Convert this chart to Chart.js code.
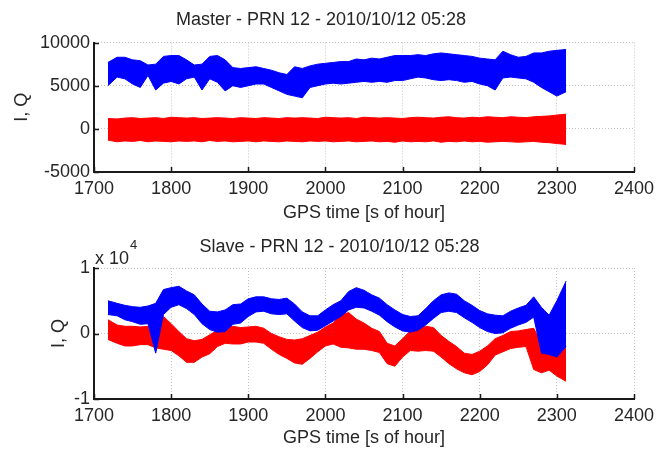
<!DOCTYPE html>
<html>
<head>
<meta charset="utf-8">
<script src="https://cdn.jsdelivr.net/npm/chart.js@4.4.1/dist/chart.umd.min.js"></script>
<style>
  html, body { margin: 0; padding: 0; background: #fff; }
  .panel { position: absolute; left: 0; width: 671px; }
  #top    { top: 0;     height: 225px; }
  #bottom { top: 225px; height: 224px; }
</style>
</head>
<body>
<div class="panel" id="top"><canvas id="master" width="671" height="225"></canvas></div>
<div class="panel" id="bottom"><canvas id="slave" width="671" height="224"></canvas></div>
<script>
'use strict';

// ── Data: each noisy trace is kept as its lower / upper envelope, read every 10 s ──
const gpsTime = [
  1718, 1730, 1740, 1750, 1760, 1770, 1780, 1790, 1800, 1810,
  1820, 1830, 1840, 1850, 1860, 1870, 1880, 1890, 1900, 1910,
  1920, 1930, 1940, 1950, 1960, 1970, 1980, 1990, 2000, 2010,
  2020, 2030, 2040, 2050, 2060, 2070, 2080, 2090, 2100, 2110,
  2120, 2130, 2140, 2150, 2160, 2170, 2180, 2190, 2200, 2210,
  2220, 2230, 2240, 2250, 2260, 2270, 2280, 2290, 2300, 2312,
];

// Master (top panel)
const masterI_hi = [
  7700, 8300, 8300, 8000, 7900, 7400, 7500, 8400, 8500, 8500,
  8000, 7400, 7500, 8400, 8500, 8000, 7100, 7000, 7100, 7200,
  7000, 6800, 6500, 6300, 7200, 7000, 7300, 7500, 7600, 7700,
  7800, 7800, 8100, 8000, 8200, 8100, 8300, 8500, 8500, 8500,
  8600, 8500, 8700, 8800, 8700, 8600, 8500, 8400, 8200, 8100,
  8000, 9000, 8600, 8300, 8400, 8800, 8800, 9000, 9100, 9200,
];
const masterI_lo = [
  5000, 6000, 5800, 5200, 4800, 6200, 4500, 5300, 5500, 5200,
  5800, 6000, 4500, 5800, 5400, 4400, 5000, 4800, 5000, 5200,
  5200, 4800, 4400, 4000, 3800, 3600, 4800, 5000, 5200, 5300,
  5200, 5300, 5400, 5500, 5400, 5500, 5400, 5600, 5600, 5800,
  6000, 5900, 5700, 5600, 5700, 5600, 5400, 5500, 5200, 5000,
  4500, 5900, 6000, 5900, 5800, 5400, 4800, 4300, 3800, 4300,
];
const masterQ_hi = [
  1200, 1150, 1250, 1300, 1200, 1250, 1300, 1200, 1350, 1300,
  1250, 1300, 1200, 1250, 1300, 1250, 1200, 1300, 1250, 1200,
  1300, 1250, 1200, 1300, 1250, 1300, 1250, 1200, 1350, 1300,
  1250, 1300, 1200, 1350, 1300, 1250, 1300, 1250, 1200, 1300,
  1350, 1300, 1250, 1350, 1400, 1300, 1250, 1350, 1300, 1400,
  1350, 1300, 1400, 1350, 1300, 1400, 1450, 1500, 1600, 1700,
];
const masterQ_lo = [
  -1300, -1500, -1400, -1450, -1350, -1500, -1400, -1450, -1500, -1400,
  -1450, -1400, -1500, -1350, -1450, -1400, -1500, -1450, -1400, -1500,
  -1400, -1450, -1500, -1400, -1450, -1500, -1400, -1450, -1400, -1500,
  -1450, -1400, -1500, -1450, -1400, -1500, -1450, -1550, -1400, -1500,
  -1450, -1500, -1400, -1550, -1450, -1500, -1400, -1500, -1450, -1550,
  -1500, -1450, -1500, -1550, -1500, -1450, -1550, -1600, -1700, -1800,
];

// Slave (bottom panel)
const slaveI_hi = [
  5000, 4600, 4300, 4100, 4000, 4200, 4600, 6700, 7000, 7200,
  6500, 5900, 4500, 3400, 3300, 3600, 4400, 4500, 5300, 5600,
  5600, 5300, 5200, 5400, 4500, 3300, 2700, 2700, 3600, 4400,
  5000, 6400, 7000, 6600, 5900, 5400, 4400, 3600, 2900, 2600,
  2700, 3800, 5000, 5900, 6200, 6000, 5000, 4300, 3500, 3000,
  2800, 2700, 3400, 3900, 4300, 5600, 4000, 2800, 5000, 8000,
];
const slaveI_lo = [
  2900, 2700, 2100, 1800, 1400, 1500, -3000, 2900, 4000, 4400,
  3800, 2900, 1500, 600, 200, 300, 1400, 1600, 2600, 3300,
  3400, 3000, 2900, 3000, 1900, 900, 400, 500, 1200, 1900,
  2600, 3600, 4000, 3900, 3400, 2800, 1800, 1000, 400, 200,
  500, 1300, 2300, 3200, 3400, 3200, 2400, 1700, 900, 300,
  0, 100, 800, 1300, 1700, 2500, -3000, -3200, -3600, -2000,
];
const slaveQ_hi = [
  2100, 1300, 1100, 1100, 1000, 1100, 1500, 2600, 1500, 300,
  -800, -1100, -900, -200, 500, 1000, 1100, 900, 1000, 1100,
  800, 0, -500, -900, -1000, -800, -300, 200, 1000, 1600,
  2800, 3200, 2200, 1600, 800, 300, -1500, -1900, -800, 400,
  700, 1100, 900, -300, -1200, -2000, -3000, -3200, -2700, -1900,
  -800, -300, 300, 400, 600, 800, -1500, -1600, -1100, -1000,
];
const slaveQ_lo = [
  -900, -1500, -1900, -1900, -1700, -1700, -2200, -2400, -2600, -3400,
  -4400, -4400, -3600, -3100, -2000, -1500, -1600, -1600, -1300, -1300,
  -1500, -2400, -3200, -3800, -4500, -4700, -3800, -2800, -1900, -1600,
  -2100, -2200, -2400, -2400, -2600, -2900, -4600, -5000, -3600, -2600,
  -2700, -2600, -2700, -3600, -4600, -5400, -6000, -6300, -5800, -4800,
  -3300, -2800, -2300, -2100, -2000, -5500, -6000, -5600, -6500, -7300,
];

const xTicks = [1700, 1800, 1900, 2000, 2100, 2200, 2300, 2400];

// ── Style ─────────────────────────────────────────────
const FONT = "'Liberation Sans', Arial, Helvetica, sans-serif";
const TEXT = '#262626';
const BLUE = '#0000ff';
const RED  = '#ff0000';

function pts(ys) {
  return ys.map((y, i) => ({ x: gpsTime[i], y }));
}

// one band = lower edge + upper edge filled down to it
function band(lo, hi, color) {
  const base = { borderColor: color, borderWidth: 1, pointRadius: 0, tension: 0 };
  return [
    { ...base, data: pts(lo), fill: false },
    { ...base, data: pts(hi), fill: '-1', backgroundColor: color },
  ];
}

// MATLAB-ish inward tick marks on the left and bottom axes
const inwardTicks = {
  id: 'inwardTicks',
  afterDraw(chart) {
    const { ctx, chartArea: a, scales: { x, y } } = chart;
    ctx.save();
    ctx.strokeStyle = '#1a1a1a';
    ctx.lineWidth = 1.5;
    ctx.beginPath();
    x.ticks.forEach(t => {
      const px = Math.round(x.getPixelForValue(t.value)) + 0.5;
      ctx.moveTo(px, a.bottom);
      ctx.lineTo(px, a.bottom - 5);
    });
    y.ticks.forEach(t => {
      const py = Math.round(y.getPixelForValue(t.value)) + 0.5;
      ctx.moveTo(a.left, py);
      ctx.lineTo(a.left + 5, py);
    });
    ctx.stroke();
    ctx.restore();
  },
};

// "x 10^4" multiplier above the slave y axis
const exponentLabel = {
  id: 'exponentLabel',
  afterDraw(chart) {
    const { ctx, chartArea: a } = chart;
    ctx.save();
    ctx.fillStyle = TEXT;
    ctx.textBaseline = 'alphabetic';
    ctx.font = `18px ${FONT}`;
    ctx.fillText('x 10', a.left + 1, a.top - 4);
    const w = ctx.measureText('x 10').width;
    ctx.font = `13px ${FONT}`;
    ctx.fillText('4', a.left + 2 + w, a.top - 19);
    ctx.restore();
  },
};

function makePanel(canvasId, opts) {
  const ctx = document.getElementById(canvasId).getContext('2d');
  return new Chart(ctx, {
    type: 'line',
    data: {
      datasets: [
        ...band(opts.I_lo, opts.I_hi, BLUE),
        ...band(opts.Q_lo, opts.Q_hi, RED),
      ],
    },
    options: {
      responsive: false,
      animation: false,
      events: [],
      layout: { padding: { top: 0, right: 37, bottom: 0, left: opts.padLeft } },
      plugins: {
        legend: { display: false },
        tooltip: { enabled: false },
        title: {
          display: true,
          text: opts.title,
          color: TEXT,
          font: { family: FONT, size: 18, weight: 'normal' },
          padding: opts.titlePad,
        },
      },
      scales: {
        x: {
          type: 'linear',
          min: 1700, max: 2400,
          afterBuildTicks: s => { s.ticks = xTicks.map(v => ({ value: v })); },
          ticks: {
            color: TEXT, padding: 6, maxRotation: 0,
            font: { family: FONT, size: 18 },
            callback: v => String(v),
          },
          grid: { color: '#c4c4c4', lineWidth: 1, drawTicks: false },
          border: { display: true, color: '#1a1a1a', width: 2, dash: [1, 2] },
          title: {
            display: true, text: 'GPS time [s of hour]', color: TEXT,
            font: { family: FONT, size: 18 }, padding: { top: 0, bottom: opts.xTitleBottom },
          },
          afterFit: s => { s.height = opts.xHeight; },
        },
        y: {
          min: opts.yMin, max: opts.yMax,
          afterBuildTicks: s => { s.ticks = opts.yTicks.map(v => ({ value: v })); },
          ticks: {
            color: TEXT, padding: 4,
            font: { family: FONT, size: 18 },
            callback: opts.yFormat,
          },
          grid: { color: '#c4c4c4', lineWidth: 1, drawTicks: false },
          border: { display: true, color: '#1a1a1a', width: 2, dash: [1, 2] },
          title: {
            display: true, text: 'I, Q', color: TEXT,
            font: { family: FONT, size: 18 }, padding: { top: 3, bottom: 0 },
          },
          afterFit: s => { s.width = 94 - opts.padLeft; },
        },
      },
    },
    plugins: opts.plugins,
  });
}

makePanel('master', {
  title: 'Master - PRN 12 - 2010/10/12 05:28',
  I_lo: masterI_lo, I_hi: masterI_hi, Q_lo: masterQ_lo, Q_hi: masterQ_hi,
  yMin: -5000, yMax: 10000, yTicks: [-5000, 0, 5000, 10000],
  yFormat: v => String(v),
  padLeft: 8,
  titlePad: { top: 9, bottom: 12 },
  xHeight: 53,
  xTitleBottom: 1,
  plugins: [inwardTicks],
});

makePanel('slave', {
  title: 'Slave - PRN 12 - 2010/10/12 05:28',
  I_lo: slaveI_lo, I_hi: slaveI_hi, Q_lo: slaveQ_lo, Q_hi: slaveQ_hi,
  yMin: -10000, yMax: 10000, yTicks: [-10000, 0, 10000],
  yFormat: v => String(v / 10000),
  padLeft: 45,
  titlePad: { top: 11, bottom: 10.4 },
  xHeight: 50,
  xTitleBottom: 0,
  plugins: [inwardTicks, exponentLabel],
});
</script>
</body>
</html>
